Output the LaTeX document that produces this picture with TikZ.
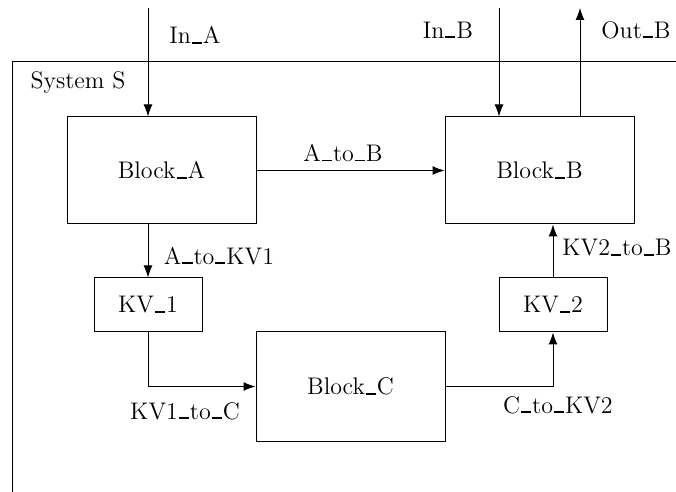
\documentclass[tikz,border=0pt]{standalone}
\usepackage{tikz}
\usetikzlibrary{arrows.meta,positioning,calc}
\newcommand{\usc}{\kern.04em\vrule height .08em depth 0pt width .42em\kern.04em}

\begin{document}
\begin{tikzpicture}[x=0.5pt,y=-0.5pt,font=\large,
    blk/.style={draw,line width=0.5pt,inner sep=0pt},
    bigblk/.style={blk,minimum width=94.5pt,minimum height=53.5pt},
    kvblk/.style={blk,minimum width=54pt,minimum height=27pt},
    flow/.style={-{Latex[length=6pt,width=4.5pt]},line width=0.5pt}]
  \useasboundingbox (0,0) rectangle (676,492);
  % open frame of the system
  \draw[line width=0.5pt] (676,62) -- (12,62) -- (12,492);
  \node (sysS) at (78,83) {System S};
  % blocks
  \node[bigblk] (blockA) at (161.5,170.5) {Block\usc A};
  \node[bigblk] (blockB) at (539.5,170.5) {Block\usc B};
  \node[bigblk,minimum height=54.5pt] (blockC) at (350.5,386.5) {Block\usc C};
  \node[kvblk] (kv1) at (148,305) {KV\usc 1};
  \node[kvblk] (kv2) at (553,305) {KV\usc 2};
  % outer ends
  \coordinate (inA) at (148,8);
  \coordinate (inB) at (499,8);
  \coordinate (outB) at (580,8);
  % flows
  \draw[flow] (inA) -- (inA |- blockA.north);
  \draw[flow] (inB) -- (inB |- blockB.north);
  \draw[flow] (outB |- blockB.north) -- (outB);
  \draw[flow] (blockA) -- (blockB);
  \draw[flow] (kv1.north |- blockA.south) -- (kv1.north);
  \draw[flow] (kv1.south) |- (blockC.west);
  \draw[flow] (blockC.east) -| (kv2.south);
  \draw[flow] (kv2.north) -- (kv2.north |- blockB.south);
  % flow names
  \node (lInA) at (195,35) {In\usc A};
  \node (lInB) at (448,30) {In\usc B};
  \node (lOutB) at (636,30) {Out\usc B};
  \node (lAB) at (343,153) {A\usc to\usc B};
  \node (lAKV) at (219,256) {A\usc to\usc KV1};
  \node (lKVC) at (185,411) {KV1\usc to\usc C};
  \node (lCKV) at (558,405) {C\usc to\usc KV2};
  \node (lKVB) at (617,248) {KV2\usc to\usc B};
\end{tikzpicture}
\end{document}
